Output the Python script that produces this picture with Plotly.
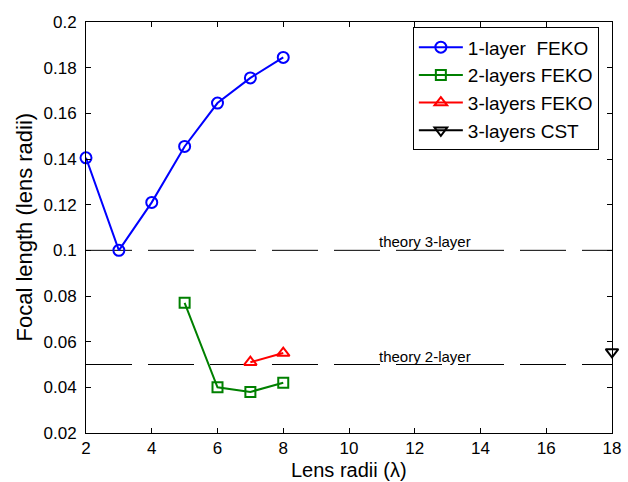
import plotly.graph_objects as go

x1 = [2, 3, 4, 5, 6, 7, 8]
y1 = [0.1405, 0.100, 0.121, 0.1455, 0.1645, 0.1755, 0.1845]
x2 = [5, 6, 7, 8]
y2 = [0.077, 0.040, 0.038, 0.042]
x3 = [7, 8]
y3 = [0.051, 0.055]
x4 = [18]
y4 = [0.0555]
theory_vals = [0.1, 0.05]
theory_labels = ["theory 3-layer", "theory 2-layer"]
x_range = [2, 18]
y_range = [0.02, 0.2]

font = "Liberation Sans, Arial, sans-serif"
fig = go.Figure()

for tv in theory_vals:
    fig.add_trace(go.Scatter(x=x_range, y=[tv, tv], mode="lines",
                             line=dict(color="black", width=1, dash="46px,16px"),
                             showlegend=False, hoverinfo="skip"))

fig.add_trace(go.Scatter(x=x1, y=y1, mode="lines+markers", name="1-layer  FEKO", cliponaxis=False,
                         line=dict(color="#0000ff", width=2),
                         marker=dict(symbol="circle-open", size=11, color="#0000ff", line=dict(width=2))))
fig.add_trace(go.Scatter(x=x2, y=y2, mode="lines+markers", name="2-layers FEKO", cliponaxis=False,
                         line=dict(color="#008000", width=2),
                         marker=dict(symbol="square-open", size=10, color="#008000", line=dict(width=2))))
fig.add_trace(go.Scatter(x=x3, y=y3, mode="lines+markers", name="3-layers FEKO", cliponaxis=False,
                         line=dict(color="#ff0000", width=2),
                         marker=dict(symbol="triangle-up-open", size=11, color="#ff0000", line=dict(width=2))))
fig.add_trace(go.Scatter(x=x4, y=y4, mode="lines+markers", name="3-layers CST", cliponaxis=False,
                         line=dict(color="black", width=2),
                         marker=dict(symbol="triangle-down-open", size=11, color="black", line=dict(width=2))))

for tv, tl in zip(theory_vals, theory_labels):
    fig.add_annotation(x=10.85, y=tv, text=tl, showarrow=False, xanchor="left", yanchor="bottom",
                       font=dict(family=font, size=15, color="black"), yshift=-2)

fig.add_annotation(xref="paper", yref="paper", x=0.5, y=0, yshift=-49, text="Lens radii (λ)",
                   showarrow=False, xanchor="center", yanchor="bottom", borderpad=0,
                   font=dict(family=font, size=20, color="black"))
fig.add_annotation(xref="paper", yref="paper", x=0, xshift=-62, y=0.5, text="Focal length (lens radii)",
                   showarrow=False, xanchor="center", yanchor="middle", textangle=-90,
                   font=dict(family=font, size=22, color="black"))

axis_common = dict(showline=True, linecolor="#000000", linewidth=1, mirror="ticks", ticks="inside",
                   ticklen=5, tickwidth=1, tickcolor="#000000", showgrid=False, zeroline=False,
                   automargin=False,
                   tickfont=dict(family=font, size=17, color="black"))
fig.update_xaxes(range=x_range, dtick=2, ticklabelstandoff=0, **axis_common)
fig.update_yaxes(range=y_range, dtick=0.02, tickformat="~g", ticklabelstandoff=5, **axis_common)

fig.update_layout(width=628, height=482, margin=dict(l=86, r=16, t=22, b=49),
                  paper_bgcolor="white", plot_bgcolor="white",
                  font=dict(family=font, color="black"),
                  legend=dict(x=0.975, y=0.987, xanchor="right", yanchor="top",
                              bordercolor="black", borderwidth=1, bgcolor="white",
                              font=dict(family=font, size=19, color="black"),
                              tracegroupgap=0, itemwidth=44))
fig.write_html("out.html")
